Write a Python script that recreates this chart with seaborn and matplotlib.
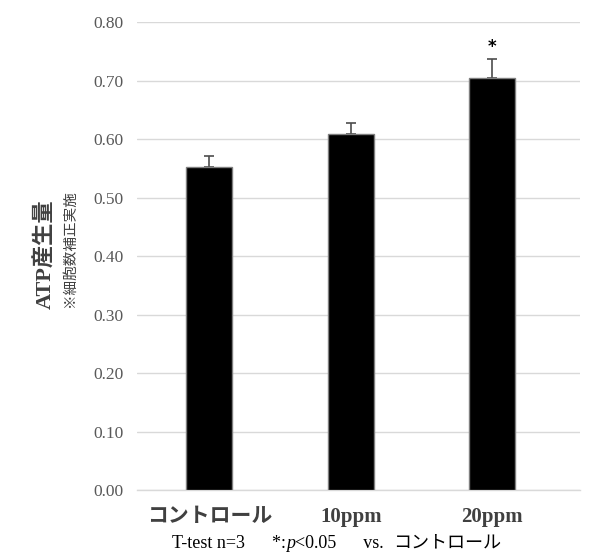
import numpy as np
import pandas as pd
import matplotlib
matplotlib.use("Agg")
import matplotlib.pyplot as plt
import seaborn as sns
from matplotlib.transforms import offset_copy

# data
groups = ['コントロール', '10ppm', '20ppm']
atp_means = [0.552, 0.608, 0.704]
atp_err = [0.019, 0.020, 0.032]
significance = ['', '', '*']

sns.set_style("white")
plt.rcParams['font.family'] = ['Liberation Serif', 'Noto Sans CJK JP', 'DejaVu Sans']

df = pd.DataFrame({'group': groups, 'atp': atp_means})

fig = plt.figure(figsize=(5.96, 5.59), dpi=100)
ax = fig.add_axes([0.23, 0.1234, 0.743, 0.8372])

sns.barplot(data=df, x='group', y='atp', color='black', width=0.325,
            edgecolor='#7f7f7f', linewidth=1.0, ax=ax, zorder=3)
for p in ax.patches:
    p.set_facecolor('black')

xpos = np.arange(len(groups))
ax.errorbar(xpos, atp_means, yerr=[np.zeros(len(atp_err)), atp_err], fmt='none',
            ecolor='#4d4d4d', elinewidth=1.2, capsize=3.5, capthick=1.2, zorder=2)

for x, m, e, s in zip(xpos, atp_means, atp_err, significance):
    if s:
        ax.text(x, m + e + 0.006, s, ha='center', va='bottom', fontsize=12,
                fontweight='bold', color='black', family=['DejaVu Sans'])

ax.set_ylim(0, 0.8)
ax.set_xlim(-0.51, 2.62)
ax.set_yticks(np.arange(0, 0.81, 0.1))
ax.set_yticklabels([f'{v:.2f}' for v in np.arange(0, 0.81, 0.1)])
ax.yaxis.grid(True, color='#d9d9d9', linewidth=1.0, zorder=0)
ax.set_axisbelow(True)
for sp in ['top', 'right', 'left']:
    ax.spines[sp].set_visible(False)
ax.spines['bottom'].set_color('#d9d9d9')
ax.spines['bottom'].set_linewidth(1.0)
ax.tick_params(axis='y', length=0, pad=10, labelsize=12.5, labelcolor='#595959')
ax.tick_params(axis='x', length=0, pad=12)
ax.set_xticks(xpos)
ax.set_xticklabels(groups, fontsize=15, fontweight='bold', color='#404040')
ax.set_xlabel('')
ax.set_ylabel('')

fig.text(0.077, 0.545, 'ATP産生量', rotation=90, ha='center', va='center',
         fontsize=16, fontweight='bold', color='#404040')
fig.text(0.117, 0.555, '※細胞数補正実施', rotation=90, ha='center', va='center',
         fontsize=10.5, color='#404040')

# footnote built from pieces so the italic p and the CJK text both render
pieces = [('T-test n=3      *:', 'normal'), ('p', 'italic'),
          ('<0.05      vs.  ', 'normal'), ('コントロール', 'normal')]
fig.canvas.draw()
renderer = fig.canvas.get_renderer()
x0 = 172 / 596
trans = fig.transFigure
for txt, style in pieces:
    t = fig.text(x0, 0.028, txt, transform=trans, ha='left', va='center',
                 fontsize=13, style=style, color='black')
    w = t.get_window_extent(renderer).width
    trans = offset_copy(trans, fig=fig, x=w, units='dots')

fig.savefig('out.png', dpi=100)
